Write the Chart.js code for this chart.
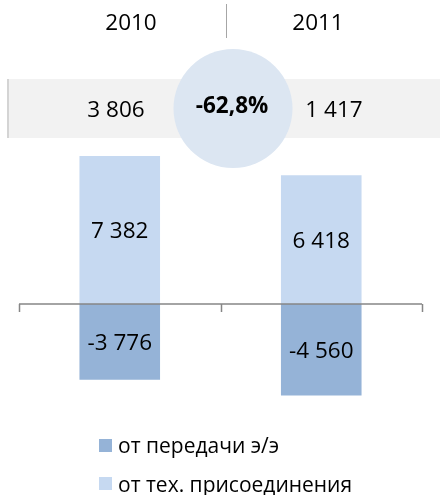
<!DOCTYPE html>
<html lang="ru">
<head>
    <meta charset="UTF-8">
    <title>Выручка</title>
    <script src="https://cdn.jsdelivr.net/npm/chart.js"></script>
    <style>
        body {
            margin: 0;
            background: #ffffff;
            font-family: 'Open Sans', sans-serif;
        }
        .wrap {
            position: relative;
            width: 440px;
            height: 495px;
        }
        #legend {
            position: absolute;
            left: 99px;
            top: 426px;
            font-size: 21px;
            color: #000;
        }
        .legend-item {
            display: flex;
            align-items: center;
            height: 38.5px;
        }
        .legend-box {
            width: 13px;
            height: 13px;
            margin-right: 6px;
        }
    </style>
</head>
<body>
    <div class="wrap">
        <canvas id="chart" width="440" height="495"></canvas>
        <div id="legend"></div>
    </div>

    <script>
        const years = ['2010', '2011'];
        const totals = [3806, 1417];
        const transferValues = [-3776, -4560];   // от передачи э/э
        const connectionValues = [7382, 6418];   // от тех. присоединения
        const seriesNames = ['от передачи э/э', 'от тех. присоединения'];
        const seriesColors = ['#95b3d7', '#c6d9f1'];

        function fmt(v) {
            const s = String(Math.abs(v)).replace(/\B(?=(\d{3})+(?!\d))/g, ' ');
            return (v < 0 ? '-' : '') + s;
        }

        const change = (totals[1] - totals[0]) / totals[0] * 100;
        const changeText = change.toFixed(1).replace('.', ',') + '%';

        const FONT = "'Open Sans', sans-serif";

        const decorPlugin = {
            id: 'decor',
            beforeDatasetsDraw(chart) {
                const ctx = chart.ctx;
                ctx.save();
                // header years + separator
                ctx.fillStyle = '#000';
                ctx.font = '22.5px ' + FONT;
                ctx.textAlign = 'center';
                ctx.textBaseline = 'middle';
                ctx.fillText(years[0], 131, 24);
                ctx.fillText(years[1], 318, 24);
                ctx.strokeStyle = '#a6a6a6';
                ctx.lineWidth = 1;
                ctx.beginPath();
                ctx.moveTo(226.5, 4);
                ctx.lineTo(226.5, 38);
                ctx.stroke();

                // grey band with totals
                ctx.fillStyle = '#f2f2f2';
                ctx.fillRect(7, 79, 433, 59);
                ctx.fillStyle = '#d4d4d4';
                ctx.fillRect(7, 79, 2, 59);

                ctx.fillStyle = '#dce6f2';
                ctx.beginPath();
                ctx.arc(233, 108.5, 59.5, 0, Math.PI * 2);
                ctx.fill();

                ctx.fillStyle = '#000';
                ctx.font = '22.5px ' + FONT;
                ctx.fillText(fmt(totals[0]), 116, 111);
                ctx.fillText(fmt(totals[1]), 334, 111);
                ctx.font = 'bold 22.5px ' + FONT;
                ctx.fillText(changeText, 232, 107);
                ctx.restore();
            },
            afterDatasetsDraw(chart) {
                const ctx = chart.ctx;
                const x = chart.scales.x;
                const y = chart.scales.y;
                const y0 = Math.round(y.getPixelForValue(0));
                ctx.save();
                // zero axis with tick marks at category borders
                ctx.strokeStyle = '#868686';
                ctx.lineWidth = 1.5;
                ctx.beginPath();
                ctx.moveTo(x.left, y0);
                ctx.lineTo(x.right, y0);
                const step = (x.right - x.left) / years.length;
                for (let i = 0; i <= years.length; i++) {
                    const px = Math.round(x.left + step * i) + 0.5;
                    ctx.moveTo(px, y0);
                    ctx.lineTo(px, y0 + 8);
                }
                ctx.stroke();

                // value labels in bar centres
                ctx.fillStyle = '#000';
                ctx.font = '22.5px ' + FONT;
                ctx.textAlign = 'center';
                ctx.textBaseline = 'middle';
                chart.data.datasets.forEach((ds, di) => {
                    chart.getDatasetMeta(di).data.forEach((bar, i) => {
                        const c = bar.getCenterPoint();
                        ctx.fillText(fmt(ds.data[i]), c.x, c.y + 2);
                    });
                });
                ctx.restore();
            }
        };

        const ctx = document.getElementById('chart').getContext('2d');
        const myChart = new Chart(ctx, {
            type: 'bar',
            data: {
                labels: years,
                datasets: [{
                    label: seriesNames[0],
                    data: transferValues,
                    backgroundColor: seriesColors[0],
                    borderWidth: 0
                }, {
                    label: seriesNames[1],
                    data: connectionValues,
                    backgroundColor: seriesColors[1],
                    borderWidth: 0
                }]
            },
            options: {
                responsive: false,
                animation: false,
                layout: {
                    padding: { left: 19, right: 18, top: 143.6, bottom: 90.75 }
                },
                categoryPercentage: 0.8,
                barPercentage: 0.5,
                scales: {
                    x: { stacked: true, display: false },
                    y: { stacked: true, display: false, min: -5000, max: 8000 }
                },
                plugins: {
                    legend: { display: false },
                    tooltip: { enabled: false }
                }
            },
            plugins: [decorPlugin]
        });

        const legendBox = document.getElementById('legend');
        seriesNames.forEach((name, i) => {
            const item = document.createElement('div');
            item.className = 'legend-item';
            item.innerHTML = '<span class="legend-box" style="background:' + seriesColors[i] + '"></span>' + name;
            legendBox.appendChild(item);
        });
    </script>
</body>
</html>
